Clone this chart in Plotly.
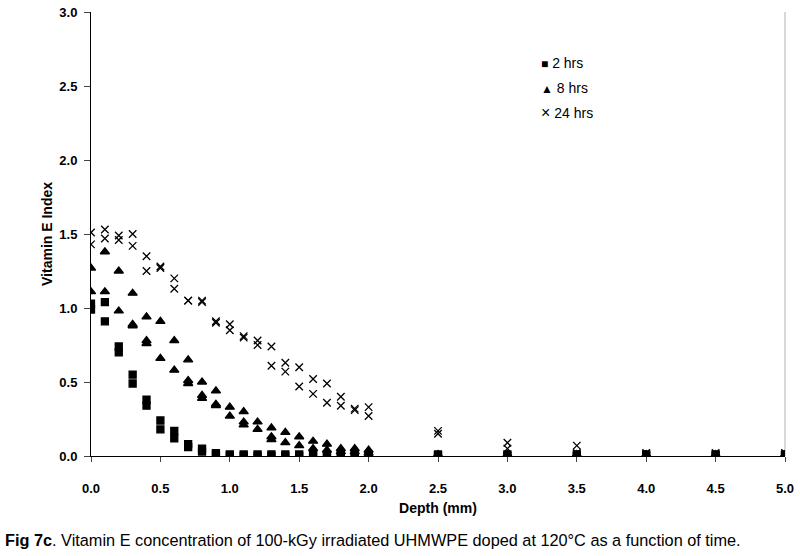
import plotly.graph_objects as go

# depth (mm) for each sampling position
DEPTH = [0.0, 0.1, 0.2, 0.3, 0.4, 0.5, 0.6, 0.7, 0.8, 0.9, 1.0,
         1.1, 1.2, 1.3, 1.4, 1.5, 1.6, 1.7, 1.8, 1.9, 2.0,
         2.5, 3.0, 3.5, 4.0, 4.5, 5.0]

HRS2_A = [1.03, 1.04, 0.74, 0.55, 0.38, 0.24, 0.17, 0.08, 0.05, 0.02, 0.01,
          0.01, 0.01, 0.01, 0.01, 0.01, 0.01, 0.01, 0.01, 0.01, 0.01,
          0.01, 0.01, 0.01, 0.01, 0.01, 0.01]
HRS2_B = [0.99, 0.91, 0.70, 0.49, 0.34, 0.18, 0.12, 0.06, 0.03, 0.01, 0.00,
          0.00, 0.00, 0.00, 0.00, 0.00, 0.00, 0.00, 0.00, 0.00, 0.00,
          0.00, 0.00, 0.00, 0.00, 0.00, 0.00]

HRS8_A = [1.27, 1.38, 1.25, 1.10, 0.94, 0.91, 0.78, 0.65, 0.50, 0.44, 0.33,
          0.30, 0.23, 0.19, 0.16, 0.13, 0.10, 0.08, 0.05, 0.05, 0.04,
          0.01, 0.01, 0.01, 0.01, 0.01, 0.01]
HRS8_B = [1.11, 1.11, 0.98, 0.89, 0.78, 0.66, 0.58, 0.51, 0.41, 0.35, 0.27,
          0.23, 0.18, 0.13, 0.09, 0.07, 0.05, 0.04, 0.03, 0.03, 0.02,
          0.00, 0.00, 0.00, 0.00, 0.00, 0.00]
HRS8_C = [None, None, None, 0.88, 0.76, None, None, 0.49, 0.39, 0.34, None,
          0.21, None, 0.11, None, None, None, None, None, None, None,
          None, None, None, None, None, None]

HRS24_A = [1.51, 1.53, 1.49, 1.50, 1.35, 1.28, 1.20, 1.05, 1.05, 0.91, 0.89,
           0.81, 0.78, 0.74, 0.63, 0.60, 0.52, 0.49, 0.40, 0.32, 0.33,
           0.17, 0.09, 0.07, 0.02, 0.02, 0.02]
HRS24_B = [1.43, 1.47, 1.46, 1.42, 1.25, 1.27, 1.13, 1.05, 1.04, 0.90, 0.85,
           0.80, 0.75, 0.61, 0.57, 0.47, 0.42, 0.36, 0.34, 0.31, 0.27,
           0.15, 0.05, 0.02, 0.01, 0.01, 0.01]

TICKS_X = [0.0, 0.5, 1.0, 1.5, 2.0, 2.5, 3.0, 3.5, 4.0, 4.5, 5.0]
TICKS_Y = [0.0, 0.5, 1.0, 1.5, 2.0, 2.5, 3.0]

FONT = "Arial, Liberation Sans, sans-serif"

series = [
    ("2 hrs", [HRS2_A, HRS2_B], "square", 7, "\u25a0", 12),
    ("8 hrs", [HRS8_A, HRS8_B, HRS8_C], "triangle-up", 8, "\u25b2", 12),
    ("24 hrs", [HRS24_A, HRS24_B], "x-thin-open", 7.5, "\u00d7", 16),
]

fig = go.Figure()
for name, reps, symbol, size, glyph, gsize in series:
    xs, ys = [], []
    for rep in reps:
        for d, v in zip(DEPTH, rep):
            if v is not None:
                xs.append(d)
                ys.append(v)
    fig.add_trace(go.Scatter(
        x=xs, y=ys, mode="markers", name=name, showlegend=False,
        marker=dict(symbol=symbol, size=size, color="black",
                    line=dict(color="black", width=1.3)),
    ))

# legend drawn as text so the symbol sits close to its label
for i, (name, _, _, _, glyph, gsize) in enumerate(series):
    fig.add_annotation(
        text=f"<span style='font-size:{gsize}px'>{glyph}</span> {name}",
        xref="paper", yref="paper", x=0.646, y=0.885 - i * 0.056,
        xanchor="left", yanchor="middle", showarrow=False,
        font=dict(family=FONT, size=14, color="black"),
    )

fig.update_layout(
    width=800, height=556,
    template="simple_white",
    paper_bgcolor="white", plot_bgcolor="white",
    margin=dict(l=91, r=15, t=12, b=100, autoexpand=False),
    font=dict(family=FONT, color="black", size=13),
    showlegend=False,
)
fig.update_xaxes(
    range=[0, 5], tickvals=TICKS_X, tickformat=".1f", automargin=False,
    ticks="outside", ticklen=5, ticklabelstandoff=15,
    showline=True, linecolor="black", linewidth=1,
    mirror=False, showgrid=False, zeroline=False,
    tickfont=dict(family=FONT, size=13, weight="bold"),
    title=dict(text="<b>Depth (mm)</b>", font=dict(size=14), standoff=8),
)
fig.update_yaxes(
    range=[0, 3], tickvals=TICKS_Y, tickformat=".1f", automargin=False,
    ticks="outside", ticklen=6, ticklabelstandoff=4,
    showline=True, linecolor="black", linewidth=1,
    showgrid=False, zeroline=False,
    tickfont=dict(family=FONT, size=13, weight="bold"),
    title=dict(text="<b>Vitamin E Index</b>", font=dict(size=14), standoff=3),
)
# right border of the plot area
fig.add_shape(type="line", xref="paper", yref="paper", x0=1, x1=1, y0=0, y1=1,
              line=dict(color="black", width=1))

fig.add_annotation(
    text="<b>Fig 7c</b>. Vitamin E concentration of 100-kGy irradiated UHMWPE doped at 120\u00b0C as a function of time.",
    xref="paper", yref="paper", x=-0.127, y=-0.189, xanchor="left", yanchor="middle",
    showarrow=False, font=dict(family=FONT, size=16.3, color="black"),
)

# drop the browser's default body margin so the figure fills the window
fig.write_html("out.html", config={"displayModeBar": False},
               post_script="document.body.style.margin='0';")
